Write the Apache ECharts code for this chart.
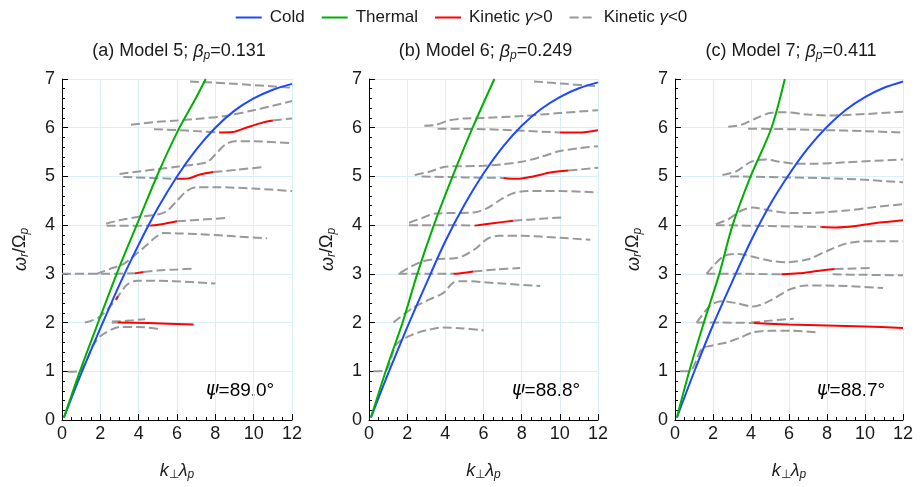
<!DOCTYPE html>
<html>
<head>
<meta charset="utf-8">
<script src="https://cdn.jsdelivr.net/npm/echarts@6/dist/echarts.min.js"></script>
<style>
  html, body { margin: 0; padding: 0; background: #fff; }
  #chart { width: 922px; height: 487px; }
</style>
</head>
<body>
<div id="chart"></div>
<script>
const PANEL_TITLES = [
  ["(a) Model 5; ", "0.131"],
  ["(b) Model 6; ", "0.249"],
  ["(c) Model 7; ", "0.411"]
];
const PSI_LABELS = ["89.0°", "88.8°", "88.7°"];

// cold plasma branch
const COLD = [
  [[0.1, 0.05], [1, 0.95], [2, 1.88], [3, 2.78], [4, 3.6], [5, 4.35], [6, 5.0], [7, 5.55], [8, 6.0], [9, 6.35], [10, 6.6], [11, 6.78], [12, 6.9]],
  [[0.1, 0.05], [1, 0.95], [2, 1.9], [3, 2.8], [4, 3.67], [5, 4.42], [6, 5.06], [7, 5.6], [8, 6.04], [9, 6.38], [10, 6.63], [11, 6.81], [12, 6.93]],
  [[0.1, 0.05], [1, 0.98], [2, 1.95], [3, 2.83], [4, 3.68], [5, 4.42], [6, 5.04], [7, 5.58], [8, 6.02], [9, 6.37], [10, 6.63], [11, 6.82], [12, 6.95]]
];

// thermal branch
const THERMAL = [
  [[0.1, 0.05], [1, 1.07], [2, 2.12], [3, 3.15], [4, 4.1], [5, 5.05], [6, 5.9], [7, 6.62], [7.5, 7.0]],
  [[0.1, 0.05], [1, 1.15], [1.76, 2.0], [2.53, 3.0], [3.4, 4.0], [4.38, 5.0], [5.43, 6.0], [6.57, 7.0]],
  [[0.1, 0.05], [0.75, 1.0], [1.52, 2.0], [2.33, 3.0], [3.03, 4.0], [3.98, 5.0], [5.08, 6.0], [5.78, 7.0]]
];

// kinetic, growing (gamma > 0)
const GROWING_A = [
  [[2.9, 2.0], [4.5, 1.99], [6.86, 1.96]],
  [[2.82, 2.47], [2.92, 2.54]],
  [[3.8, 3.01], [4.25, 3.04]],
  [[4.6, 3.99], [5.2, 4.02], [6.0, 4.08]],
  [[6.0, 4.95], [6.6, 4.96], [7.2, 5.04], [7.9, 5.09]],
  [[8.2, 5.9], [8.9, 5.91], [9.6, 6.0], [10.5, 6.11], [11.0, 6.15]]
];
const GROWING_B = [
  [[4.42, 3.0], [4.9, 3.02], [5.47, 3.05]],
  [[5.55, 3.99], [6.5, 4.04], [7.56, 4.09]],
  [[7.04, 4.97], [7.8, 4.95], [8.6, 5.0], [9.5, 5.08], [10.45, 5.12]],
  [[10.0, 5.9], [11.0, 5.9], [12.0, 5.95]]
];
const GROWING_C = [
  [[4.15, 1.99], [6, 1.96], [8, 1.94], [10, 1.92], [12, 1.89]],
  [[5.6, 2.99], [6.5, 3.01], [7.5, 3.06], [8.4, 3.1]],
  [[7.7, 3.96], [8.5, 3.95], [9.5, 3.98], [10.5, 4.04], [12, 4.1]]
];

// kinetic, damped (gamma < 0)
const DAMPED_A = [
  [[0.3, 0.99], [0.9, 1.0], [1.2, 1.15], [1.6, 1.52], [2.0, 1.72], [2.6, 1.86], [3.0, 1.91], [4.0, 1.91], [5.2, 1.86]],
  [[1.2, 2.0], [1.9, 2.1], [2.6, 2.37], [3.0, 2.58], [3.4, 2.78], [3.9, 2.86], [5.8, 2.85], [8.0, 2.8]],
  [[2.6, 2.02], [3.5, 2.04], [4.34, 2.07]],
  [[2.6, 2.0], [2.9, 2.0]],
  [[0, 3.0], [2, 3.0], [3.8, 3.01]],
  [[4.25, 3.04], [5, 3.07], [6, 3.09], [6.9, 3.11]],
  [[1.8, 3.0], [2.5, 3.1], [3.2, 3.2], [3.7, 3.35], [4.3, 3.55], [4.85, 3.74], [5.3, 3.84], [6, 3.83], [7, 3.82], [9, 3.77], [10.7, 3.73]],
  [[2.33, 3.99], [4.6, 3.99]],
  [[6.0, 4.08], [7.5, 4.12], [8.73, 4.15]],
  [[2.3, 4.03], [3, 4.1], [4, 4.17], [5, 4.22], [5.5, 4.3], [6, 4.5], [6.5, 4.7], [7, 4.78], [8, 4.78], [10, 4.75], [12, 4.7]],
  [[3.2, 4.99], [6.0, 4.95]],
  [[7.9, 5.09], [9.2, 5.14], [10.47, 5.19]],
  [[3.0, 5.05], [4, 5.1], [5, 5.15], [6, 5.2], [7, 5.25], [7.6, 5.3], [8, 5.45], [8.5, 5.65], [9, 5.72], [10, 5.72], [12, 5.68]],
  [[4.8, 5.97], [6, 5.95], [7, 5.93], [8.2, 5.9]],
  [[11.0, 6.15], [12, 6.19]],
  [[3.6, 6.06], [5, 6.12], [6, 6.15], [7, 6.18], [8.5, 6.24], [10, 6.36], [11, 6.45], [12, 6.55]],
  [[6.68, 6.95], [9, 6.9], [12, 6.82]]
];
const DAMPED_B = [
  [[0.23, 1.0], [0.84, 1.01], [1.45, 1.56], [2.33, 1.76], [3.2, 1.86], [3.9, 1.9], [4.95, 1.88], [6.0, 1.84]],
  [[1.28, 2.0], [2.33, 2.31], [3.2, 2.48], [3.9, 2.61], [4.42, 2.82], [4.95, 2.85], [7, 2.8], [8.97, 2.75]],
  [[1.54, 3.0], [3, 3.0], [4.42, 3.0]],
  [[5.47, 3.05], [6.7, 3.09], [7.92, 3.12]],
  [[1.63, 3.02], [2.2, 3.15], [2.85, 3.26], [3.5, 3.3], [4.5, 3.32], [5.0, 3.38], [5.6, 3.52], [6.2, 3.72], [6.8, 3.78], [8, 3.78], [10, 3.74], [11.6, 3.7]],
  [[2.1, 4.0], [4, 4.0], [5.55, 3.99]],
  [[7.56, 4.09], [9, 4.13], [10.2, 4.16]],
  [[2.1, 4.05], [2.8, 4.15], [3.5, 4.24], [4.5, 4.25], [5.5, 4.26], [6.2, 4.35], [7, 4.55], [7.6, 4.66], [8.3, 4.7], [10, 4.7], [12, 4.67]],
  [[2.76, 5.0], [5, 4.98], [7.04, 4.97]],
  [[10.45, 5.12], [12, 5.18]],
  [[2.4, 5.03], [3.2, 5.1], [4, 5.2], [5, 5.21], [6, 5.22], [7, 5.25], [8, 5.3], [9, 5.4], [10, 5.52], [11, 5.58], [12, 5.62]],
  [[3.6, 5.98], [6, 5.97], [8, 5.94], [10, 5.9]],
  [[2.9, 6.04], [3.5, 6.06], [4.2, 6.15], [5, 6.19], [6, 6.2], [8, 6.24], [10, 6.3], [12, 6.36]],
  [[8.65, 6.95], [10.3, 6.9], [12, 6.85]]
];
const DAMPED_C = [
  [[0.26, 1.0], [0.79, 1.01], [1.4, 1.46], [1.84, 1.52], [2.71, 1.59], [3.42, 1.69], [4.12, 1.8], [5, 1.83], [6.2, 1.83], [7.44, 1.8]],
  [[1.14, 2.0], [2.5, 2.0], [4.15, 1.99]],
  [[4.0, 2.0], [5, 2.04], [6.25, 2.08]],
  [[1.14, 2.0], [1.84, 2.34], [2.45, 2.44], [3.2, 2.4], [4.12, 2.33], [5, 2.45], [6.04, 2.68], [6.92, 2.76], [8, 2.76], [10.95, 2.71]],
  [[1.66, 3.0], [3.5, 3.0], [5.6, 2.99]],
  [[8.4, 3.1], [9.4, 3.11], [10.33, 3.12]],
  [[8.3, 2.99], [10, 2.98], [12, 2.97]],
  [[1.66, 3.0], [2.1, 3.2], [2.6, 3.37], [3.3, 3.41], [4, 3.36], [5, 3.27], [5.9, 3.24], [7, 3.3], [8, 3.47], [9, 3.62], [10, 3.67], [12, 3.67]],
  [[2.15, 4.0], [5, 3.98], [7.7, 3.96]],
  [[2.15, 4.02], [2.8, 4.12], [3.5, 4.3], [4.1, 4.36], [5, 4.3], [6, 4.25], [7, 4.25], [9, 4.3], [10.5, 4.37], [12, 4.43]],
  [[2.9, 5.0], [6, 4.98], [9, 4.95], [12, 4.88]],
  [[2.5, 5.03], [3.2, 5.1], [4, 5.3], [4.8, 5.35], [5.5, 5.3], [6.5, 5.26], [7.3, 5.26], [9, 5.29], [12, 5.35]],
  [[3.85, 5.98], [6, 5.97], [8, 5.95], [10, 5.93], [12, 5.9]],
  [[2.8, 6.02], [3.5, 6.06], [4.3, 6.2], [5, 6.3], [5.7, 6.32], [7, 6.27], [8.1, 6.25], [10, 6.28], [12, 6.33]]
];

const GROWING = [GROWING_A, GROWING_B, GROWING_C];
const DAMPED = [DAMPED_A, DAMPED_B, DAMPED_C];

const FONT = "Liberation Sans, Arial, sans-serif";
const GREEK = "DejaVu Sans, sans-serif";
const TEXT = "#1a1a1a";
const GRID_LEFT = [62, 369, 675];
const GRID_WIDTH = [230, 229, 228];
const GRID_TOP = 79;
const GRID_HEIGHT = 341;

const RICH = {
  n: { fontSize: 18, fontFamily: FONT, color: TEXT, fontWeight: "normal" },
  i: { fontSize: 18, fontFamily: FONT, color: TEXT, fontWeight: "normal", fontStyle: "italic" },
  s: { fontSize: 12, fontFamily: FONT, color: TEXT, fontWeight: "normal", fontStyle: "italic", padding: [9, 0, 0, 0] },
  su: { fontSize: 12, fontFamily: FONT, color: TEXT, fontWeight: "normal", padding: [9, 0, 0, 0] },
  big: { fontSize: 19, fontFamily: FONT, color: TEXT, fontWeight: "normal" },
  psi: { fontSize: 19, fontFamily: GREEK, color: TEXT, fontWeight: "normal", fontStyle: "italic" }
};

function curve(name, data, idx, color, lineStyle, z) {
  return {
    name,
    type: "line",
    xAxisIndex: idx,
    yAxisIndex: idx,
    data,
    symbol: "none",
    showSymbol: false,
    smooth: 0.3,
    silent: true,
    z,
    itemStyle: { color },
    lineStyle: Object.assign({ color }, lineStyle)
  };
}

const grid = [];
const xAxis = [];
const yAxis = [];
const series = [];
const title = [];
const graphic = [];

for (let p = 0; p < 3; p++) {
  grid.push({ left: GRID_LEFT[p], top: GRID_TOP, width: GRID_WIDTH[p], height: GRID_HEIGHT });

  xAxis.push({
    type: "value",
    gridIndex: p,
    min: 0,
    max: 12,
    interval: 2,
    name: "{i|k}{su|⊥}{i|λ}{s|p}",
    nameLocation: "middle",
    nameGap: 40,
    nameTextStyle: { rich: RICH },
    axisLine: { show: true, onZero: false, lineStyle: { color: "#000", width: 1 } },
    axisTick: { show: true, inside: true, length: 6, lineStyle: { color: "#000" } },
    minorTick: { show: true, splitNumber: 4, length: 3, lineStyle: { color: "#000" } },
    axisLabel: { color: TEXT, fontSize: 18, fontFamily: FONT, margin: 5 },
    splitLine: { show: true, lineStyle: { color: "#d8eef9", width: 1 } }
  });

  yAxis.push({
    type: "value",
    gridIndex: p,
    min: 0,
    max: 7,
    interval: 1,
    name: "{i|ω}{s|r}{n|/Ω}{s|p}",
    nameLocation: "middle",
    nameGap: 31,
    nameTextStyle: { rich: RICH },
    axisLine: { show: true, onZero: false, lineStyle: { color: "#000", width: 1 } },
    axisTick: { show: true, inside: true, length: 6, lineStyle: { color: "#000" } },
    minorTick: { show: true, splitNumber: 5, length: 3, lineStyle: { color: "#000" } },
    axisLabel: { color: TEXT, fontSize: 18, fontFamily: FONT, margin: 7 },
    splitLine: { show: true, lineStyle: { color: "#d8eef9", width: 1 } }
  });

  DAMPED[p].forEach(d => {
    series.push(curve("Kinetic γ<0", d, p, "#999999", { width: 2, type: [9, 4] }, 2));
  });
  GROWING[p].forEach(d => {
    series.push(curve("Kinetic γ>0", d, p, "#ff0000", { width: 2 }, 3));
  });
  series.push(curve("Cold", COLD[p], p, "#1c48ff", { width: 2 }, 4));
  series.push(curve("Thermal", THERMAL[p], p, "#00b000", { width: 2 }, 4));

  title.push({
    text: "{n|" + PANEL_TITLES[p][0] + "}{i|β}{s|p}{n|=" + PANEL_TITLES[p][1] + "}",
    left: GRID_LEFT[p] + GRID_WIDTH[p] / 2 - 3,
    top: 36,
    textAlign: "center",
    textStyle: { fontWeight: "normal", rich: RICH }
  });

  graphic.push({
    type: "text",
    left: GRID_LEFT[p] + GRID_WIDTH[p] - 86,
    top: 381,
    style: {
      text: "{psi|ψ}{big|=" + PSI_LABELS[p] + "}",
      rich: RICH
    },
    silent: true
  });
}

const chart = echarts.init(document.getElementById("chart"), null, { renderer: "canvas" });
chart.setOption({
  animation: false,
  backgroundColor: "#fff",
  title,
  legend: {
    top: 4,
    left: "center",
    itemWidth: 26,
    itemHeight: 14,
    itemGap: 16,
    itemStyle: { opacity: 0 },
    data: ["Cold", "Thermal", "Kinetic γ>0", "Kinetic γ<0"],
    formatter: name => name.replace(/^Kinetic γ(.)0$/, "{n|Kinetic }{i|γ}{n|$10}"),
    textStyle: {
      fontSize: 17,
      fontFamily: FONT,
      color: TEXT,
      padding: [0, 0, 0, 3],
      rich: {
        n: { fontSize: 17, fontFamily: FONT, color: TEXT },
        i: { fontSize: 17, fontFamily: FONT, color: TEXT, fontStyle: "italic" }
      }
    }
  },
  grid,
  xAxis,
  yAxis,
  series,
  graphic
});
</script>
</body>
</html>
